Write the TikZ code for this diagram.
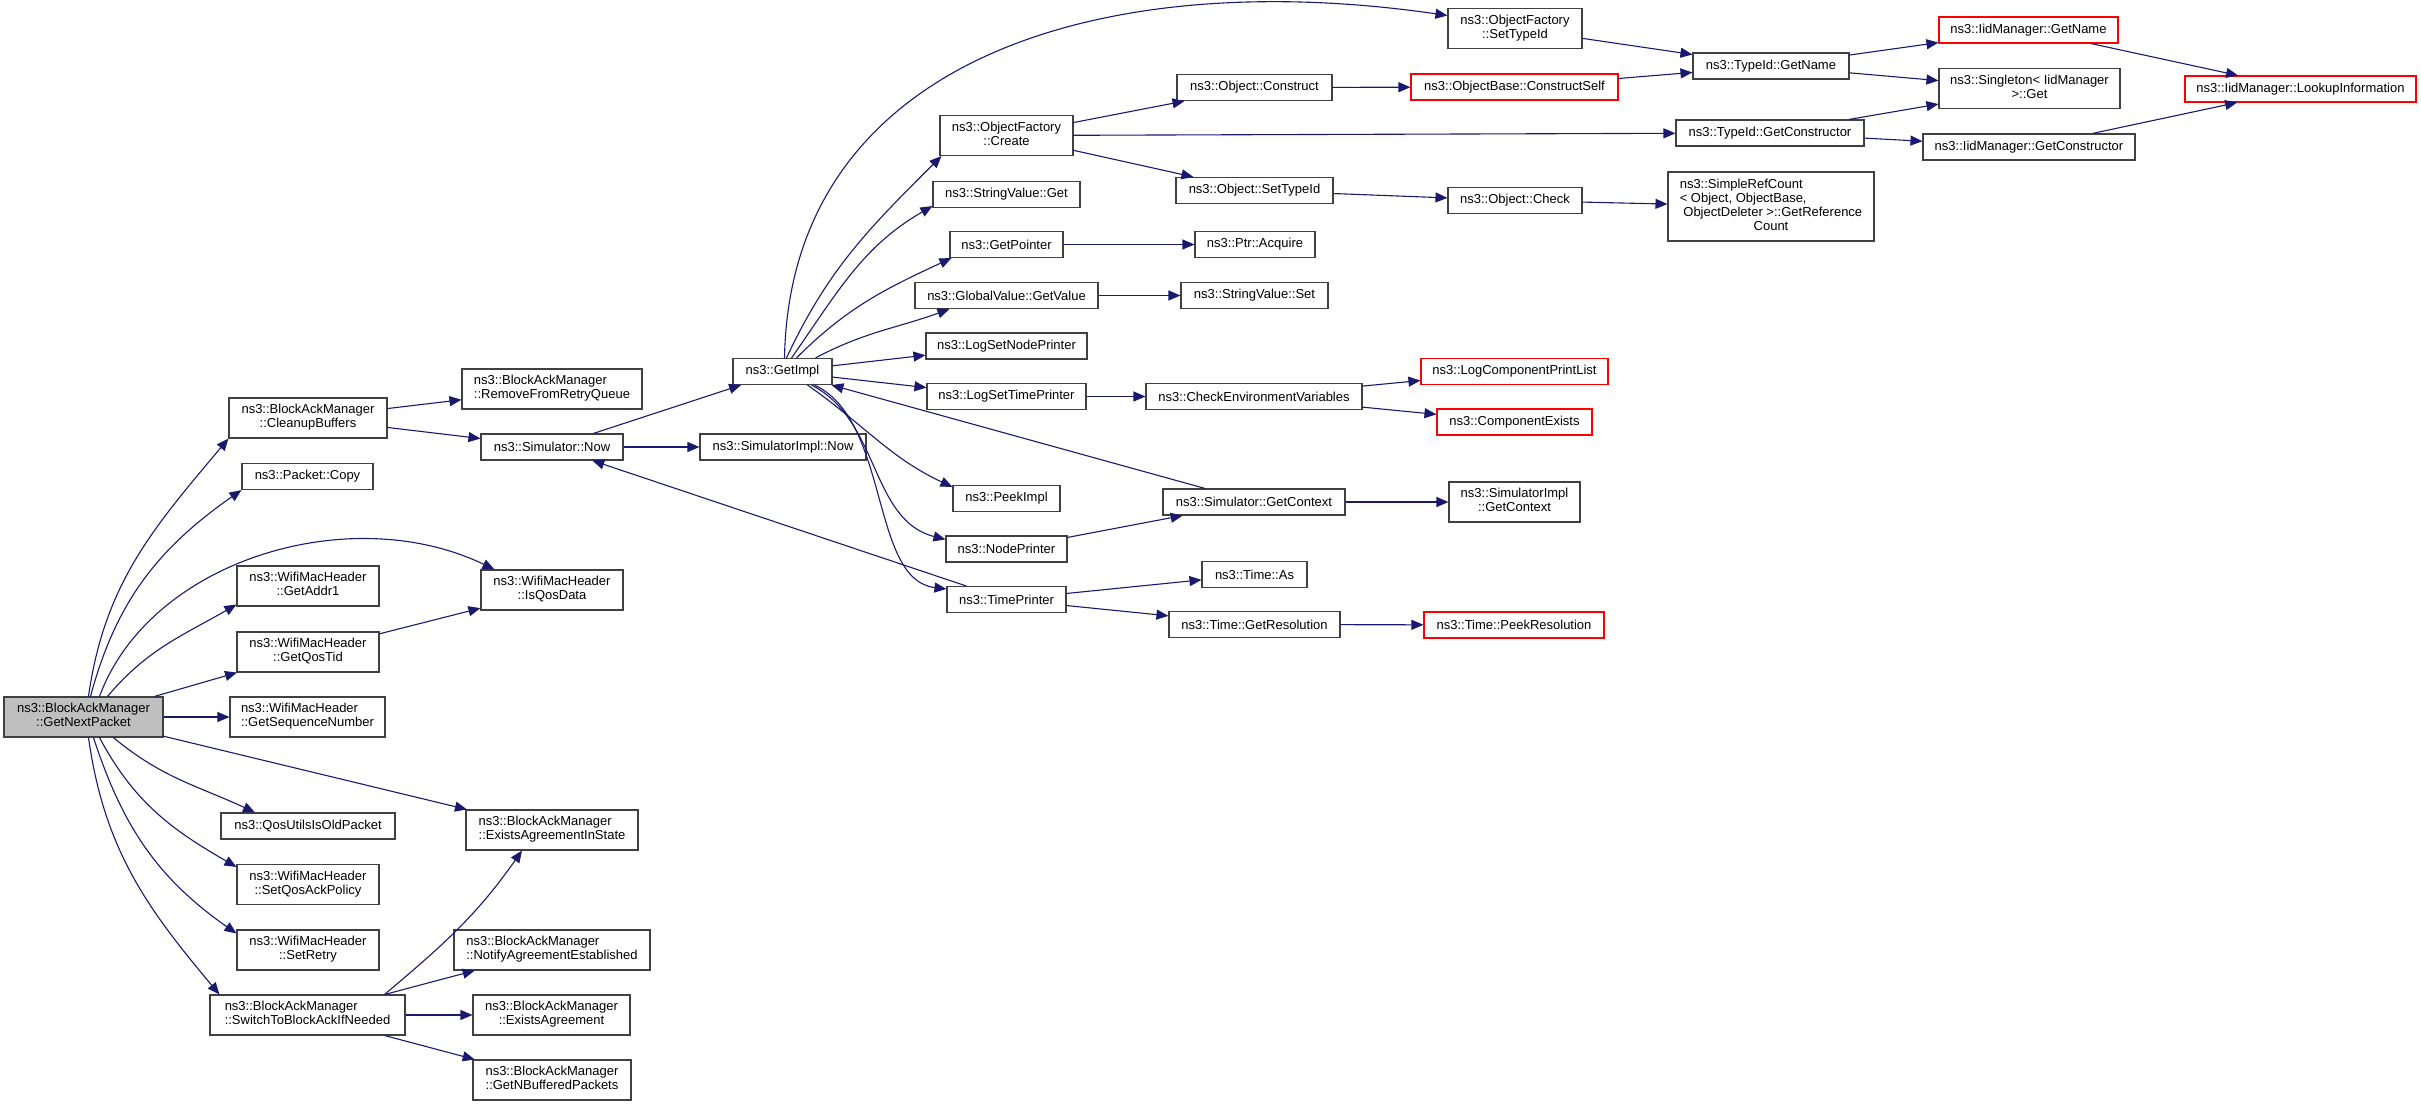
\documentclass[tikz,border=0pt]{standalone}
\usepackage{fontspec}
\setmainfont{Liberation Sans}
\usetikzlibrary{arrows.meta}

\definecolor{edgeblue}{HTML}{191970}
\definecolor{rootgray}{HTML}{BFBFBF}
\definecolor{boxline}{HTML}{404040}

% doxygen style label: upper lines flush left, last line centred
\newcommand{\fnlabel}[2]{\begin{tabular}{@{}l@{}}#1\\\multicolumn{1}{@{}c@{}}{#2}\end{tabular}}

\begin{document}
\begin{tikzpicture}[
  x=1pt, y=1pt,
  font=\fontsize{13}{14}\selectfont,
  fn/.style={draw=boxline, line width=1.1pt, fill=white, inner sep=0pt,
             align=center, minimum height=26pt},
  fn2/.style={fn, minimum height=40pt},
  ext/.style={fn, draw=red},
  root/.style={fn2, fill=rootgray},
  arr/.style={-{Triangle[length=12pt,width=10pt]}, line width=1.1pt, edgeblue}
]
\useasboundingbox (0,0) rectangle (2421,-1106);

% ---- caller ----
\node[root, minimum width=159pt] (gnp) at (83.5,-717)
  {\fnlabel{ns3::BlockAckManager}{::GetNextPacket}};

% ---- first level ----
\node[fn2, minimum width=158pt] (cleanup) at (308,-418)
  {\fnlabel{ns3::BlockAckManager}{::CleanupBuffers}};
\node[fn, minimum width=131pt] (copy) at (307.5,-476.5) {ns3::Packet::Copy};
\node[fn2, minimum width=142pt] (addr1) at (308,-586)
  {\fnlabel{ns3::WifiMacHeader}{::GetAddr1}};
\node[fn2, minimum width=142pt] (qostid) at (308,-652)
  {\fnlabel{ns3::WifiMacHeader}{::GetQosTid}};
\node[fn2, minimum width=155pt] (seqnum) at (307.5,-717)
  {\fnlabel{ns3::WifiMacHeader}{::GetSequenceNumber}};
\node[fn, minimum width=174pt] (oldpkt) at (308,-826) {ns3::QosUtilsIsOldPacket};
\node[fn2, minimum width=142pt] (ackpol) at (308,-884.5)
  {\fnlabel{ns3::WifiMacHeader}{::SetQosAckPolicy}};
\node[fn2, minimum width=142pt] (retry) at (308,-950)
  {\fnlabel{ns3::WifiMacHeader}{::SetRetry}};
\node[fn2, minimum width=195pt] (swba) at (307.5,-1015)
  {\fnlabel{ns3::BlockAckManager}{::SwitchToBlockAckIfNeeded}};

% ---- second level ----
\node[fn2, minimum width=180pt] (remove) at (552,-389)
  {\fnlabel{ns3::BlockAckManager}{::RemoveFromRetryQueue}};
\node[fn, minimum width=142pt] (simnow) at (552,-447) {ns3::Simulator::Now};
\node[fn2, minimum width=142pt] (isqos) at (552,-590)
  {\fnlabel{ns3::WifiMacHeader}{::IsQosData}};
\node[fn2, minimum width=172pt] (eais) at (552,-830)
  {\fnlabel{ns3::BlockAckManager}{::ExistsAgreementInState}};
\node[fn2, minimum width=196pt] (notify) at (552,-950)
  {\fnlabel{ns3::BlockAckManager}{::NotifyAgreementEstablished}};
\node[fn2, minimum width=157pt] (exagr) at (551.5,-1015)
  {\fnlabel{ns3::BlockAckManager}{::ExistsAgreement}};
\node[fn2, minimum width=158pt] (nbuf) at (552,-1080)
  {\fnlabel{ns3::BlockAckManager}{::GetNBufferedPackets}};

% ---- third level ----
\node[fn, minimum width=99pt] (getimpl) at (782.5,-371.5) {ns3::GetImpl};
\node[fn, minimum width=166pt] (simimplnow) at (783,-447) {ns3::SimulatorImpl::Now};

% ---- fourth level ----
\node[fn2, minimum width=133pt] (create) at (1006.5,-135.5)
  {\fnlabel{ns3::ObjectFactory}{::Create}};
\node[fn, minimum width=147pt] (svget) at (1006.5,-194.5) {ns3::StringValue::Get};
\node[fn, minimum width=113pt] (getptr) at (1006.5,-244.5) {ns3::GetPointer};
\node[fn, minimum width=183pt] (gvget) at (1006.5,-295.5) {ns3::GlobalValue::GetValue};
\node[fn, minimum width=161pt] (lsnp) at (1006.5,-346) {ns3::LogSetNodePrinter};
\node[fn, minimum width=159pt] (lstp) at (1006.5,-396.5) {ns3::LogSetTimePrinter};
\node[fn, minimum width=107pt] (peek) at (1006.5,-498.5) {ns3::PeekImpl};
\node[fn, minimum width=121pt] (nodepr) at (1006.5,-549) {ns3::NodePrinter};
\node[fn, minimum width=119pt] (timepr) at (1006.5,-599.5) {ns3::TimePrinter};

% ---- fifth level ----
\node[fn, minimum width=155pt] (construct) at (1254.5,-87.5) {ns3::Object::Construct};
\node[fn, minimum width=157pt] (settypeid) at (1254.5,-190.5) {ns3::Object::SetTypeId};
\node[fn, minimum width=120pt] (acquire) at (1255,-244.5) {ns3::Ptr::Acquire};
\node[fn, minimum width=147pt] (svset) at (1254.5,-295.5) {ns3::StringValue::Set};
\node[fn, minimum width=216pt] (checkenv) at (1254,-396.5) {ns3::CheckEnvironmentVariables};
\node[fn, minimum width=182pt] (getctx) at (1254,-502) {ns3::Simulator::GetContext};
\node[fn, minimum width=105pt] (timeas) at (1254.5,-574.5) {ns3::Time::As};
\node[fn, minimum width=171pt] (getres) at (1254.5,-624.5) {ns3::Time::GetResolution};

% ---- sixth level ----
\node[fn2, minimum width=134pt] (ofsettype) at (1515,-28.5)
  {\fnlabel{ns3::ObjectFactory}{::SetTypeId}};
\node[ext, minimum width=207pt] (constructself) at (1514.5,-87) {ns3::ObjectBase::ConstructSelf};
\node[fn, minimum width=134pt] (check) at (1515,-200.5) {ns3::Object::Check};
\node[ext, minimum width=187pt] (logcpl) at (1514.5,-371.5) {ns3::LogComponentPrintList};
\node[ext, minimum width=155pt] (compex) at (1514.5,-422) {ns3::ComponentExists};
\node[fn2, minimum width=131pt] (simimplctx) at (1514.5,-502)
  {\fnlabel{ns3::SimulatorImpl}{::GetContext}};
\node[ext, minimum width=180pt] (peekres) at (1514,-625) {ns3::Time::PeekResolution};

% ---- seventh level ----
\node[fn, minimum width=156pt] (tidname) at (1771,-66) {ns3::TypeId::GetName};
\node[fn, minimum width=188pt] (tidctor) at (1770,-133) {ns3::TypeId::GetConstructor};
\node[fn, minimum width=206pt, minimum height=69pt] (refcount) at (1771,-206.5)
  {\begin{tabular}{@{}l@{}}ns3::SimpleRefCount\\< Object, ObjectBase,\\\ ObjectDeleter >::GetReference\\\multicolumn{1}{@{}c@{}}{Count}\end{tabular}};

% ---- eighth and ninth level ----
\node[ext, minimum width=179pt] (iidname) at (2028.5,-30) {ns3::IidManager::GetName};
\node[fn2, minimum width=181pt] (singleton) at (2029.5,-88.5)
  {\fnlabel{ns3::Singleton< IidManager}{>::Get}};
\node[fn, minimum width=212pt] (iidctor) at (2029,-147) {ns3::IidManager::GetConstructor};
\node[ext, minimum width=231pt] (lookup) at (2300.5,-89) {ns3::IidManager::LookupInformation};

% ---- calls of GetNextPacket ----
\draw[arr] ([xshift=5]gnp.north) to[out=82,in=230] (cleanup.south west);
\draw[arr] ([xshift=7]gnp.north) to[out=75,in=215] (copy.south west);
\draw[arr] ([xshift=16]gnp.north) .. controls (150,-560) and (350,-500) .. ([xshift=14]isqos.north west);
\draw[arr] ([xshift=24]gnp.north) to[out=50,in=210] ([yshift=2]addr1.south west);
\draw[arr] (gnp) -- (qostid);
\draw[arr] (gnp) -- (seqnum);
\draw[arr] (gnp) -- (eais);
\draw[arr] ([xshift=30]gnp.south) to[out=-40,in=155] ([xshift=-53]oldpkt.north);
\draw[arr] ([xshift=16]gnp.south) to[out=-62,in=150] ([yshift=-3]ackpol.north west);
\draw[arr] ([xshift=10]gnp.south) to[out=-72,in=145] ([yshift=-4]retry.north west);
\draw[arr] ([xshift=5]gnp.south) to[out=-82,in=130] ([xshift=10]swba.north west);

% ---- second level calls ----
\draw[arr] (cleanup) -- (remove);
\draw[arr] (cleanup) -- (simnow);
\draw[arr] (qostid) -- (isqos);
\draw[arr] ([xshift=77]swba.north) to[out=40,in=235] ([xshift=-30]eais.south);
\draw[arr] (swba) -- (notify);
\draw[arr] (swba) -- (exagr);
\draw[arr] (swba) -- (nbuf);
\draw[arr] (simnow) -- (getimpl);
\draw[arr] (simnow) -- (simimplnow);
\draw[arr] (timepr) -- (simnow);

% ---- calls of GetImpl ----
\draw[arr] ([xshift=2]getimpl.north) .. controls (790,-60) and (1100,35) .. ([yshift=13]ofsettype.west);
\draw[arr] ([xshift=4]getimpl.north) to[out=65,in=225] ([xshift=2]create.south west);
\draw[arr] ([xshift=9]getimpl.north) to[out=55,in=210] ([yshift=2]svget.south west);
\draw[arr] ([xshift=14]getimpl.north) to[out=45,in=205] ([xshift=2]getptr.south west);
\draw[arr] ([xshift=33]getimpl.north) to[out=28,in=200] ([xshift=35]gvget.south west);
\draw[arr] (getimpl) -- (lsnp);
\draw[arr] (getimpl) -- (lstp);
\draw[arr] ([xshift=25]getimpl.south) to[out=-35,in=155] ([yshift=-2]peek.north west);
\draw[arr] ([xshift=29]getimpl.south) .. controls (880,-420) and (870,-520) .. ([yshift=-4]nodepr.north west);
\draw[arr] ([xshift=32]getimpl.south) .. controls (890,-420) and (870,-580) .. ([yshift=-3]timepr.north west);
\draw[arr] (getctx) -- (getimpl);

% ---- deeper calls ----
\draw[arr] (create) -- (construct);
\draw[arr] (create) -- (tidctor);
\draw[arr] (create) -- (settypeid);
\draw[arr] (construct) -- (constructself);
\draw[arr] (settypeid) -- (check);
\draw[arr] (check) -- (refcount);
\draw[arr] (getptr) -- (acquire);
\draw[arr] (gvget) -- (svset);
\draw[arr] (lstp) -- (checkenv);
\draw[arr] (checkenv) -- (logcpl);
\draw[arr] (checkenv) -- (compex);
\draw[arr] (nodepr) -- (getctx);
\draw[arr] (getctx) -- (simimplctx);
\draw[arr] (timepr) -- (timeas);
\draw[arr] (timepr) -- (getres);
\draw[arr] (getres) -- (peekres);
\draw[arr] (ofsettype) -- (tidname);
\draw[arr] (constructself) -- (tidname);
\draw[arr] (tidname) -- (iidname);
\draw[arr] (tidname) -- (singleton);
\draw[arr] (tidctor) -- (singleton);
\draw[arr] (tidctor) -- (iidctor);
\draw[arr] (iidname) -- (lookup);
\draw[arr] (iidctor) -- (lookup);
\end{tikzpicture}
\end{document}
